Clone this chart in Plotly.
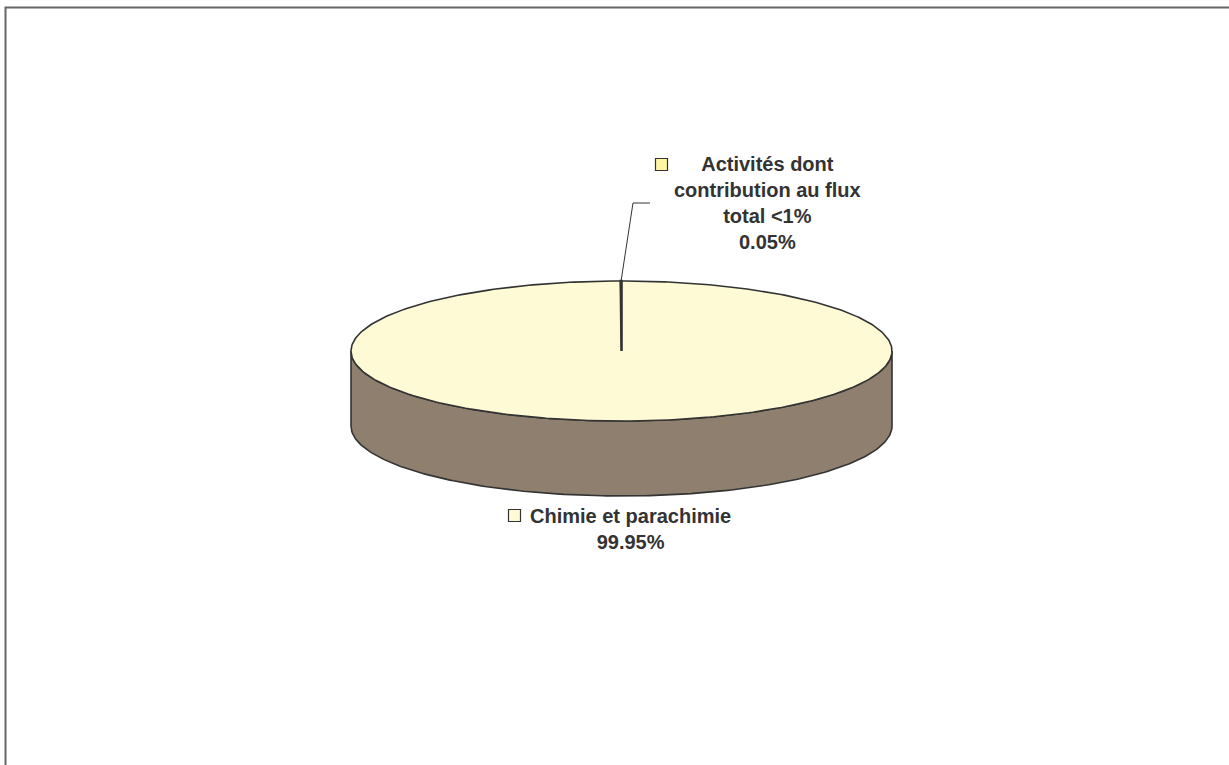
import numpy as np
import plotly.graph_objects as go

# data
labels = ['Chimie et parachimie', 'Activités dont contribution au flux total &lt;1%']
label_lines = [['Chimie et parachimie'], ['Activités dont', 'contribution au flux', 'total &lt;1%']]
values = [99.95, 0.05]
top_colors = ['#FFFAD6', '#FFF5A3']
side_colors = ['#8F7F6E', '#8F7F6E']

W, H = 1229, 765
cx, cy, rx, ry, depth = 621.5, 351.0, 270.5, 70.0, 75.0
edge = '#333333'
font = dict(family='Arial, Liberation Sans, sans-serif', size=20, color='#333333')


def ell(theta, dy=0.0):
    # clockwise from 12 o'clock, screen y goes down
    return cx + rx * np.sin(theta), cy - ry * np.cos(theta) + dy


total = sum(values)
fracs = [v / total for v in values]
bounds = np.concatenate([[0], np.cumsum(fracs)]) * 2 * np.pi

fig = go.Figure()

# side walls (front half only)
for i in range(len(values)):
    a0, a1 = max(bounds[i], np.pi / 2), min(bounds[i + 1], 3 * np.pi / 2)
    if a1 <= a0:
        continue
    t = np.linspace(a0, a1, 200)
    xt, yt = ell(t)
    xb, yb = ell(t[::-1], depth)
    fig.add_trace(go.Scatter(
        x=np.concatenate([xt, xb, xt[:1]]), y=np.concatenate([yt, yb, yt[:1]]),
        mode='lines', fill='toself', fillcolor=side_colors[i],
        line=dict(color=edge, width=1.6), hoverinfo='skip', showlegend=False))

# top faces
for i in range(len(values)):
    t = np.linspace(bounds[i], bounds[i + 1], max(3, int(400 * fracs[i])))
    xt, yt = ell(t)
    fig.add_trace(go.Scatter(
        x=np.concatenate([[cx], xt, [cx]]), y=np.concatenate([[cy], yt, [cy]]),
        mode='lines', fill='toself', fillcolor=top_colors[i],
        line=dict(color=edge, width=1.6 if fracs[i] > 0.01 else 2.4),
        hoverinfo='skip', showlegend=False))

# labels
label_pos = [(630, 529), (767, 203)]
key_pos = [(514.5, 515.5), (661.5, 164.5)]
for i in range(len(values)):
    mid = (bounds[i] + bounds[i + 1]) / 2
    lx, ly = label_pos[i]
    txt = '<br>'.join(label_lines[i] + ['%.2f%%' % (fracs[i] * 100)])
    fig.add_annotation(x=lx, y=ly, text='<b>' + txt + '</b>', showarrow=False,
                       font=font, align='center', xanchor='center', yanchor='middle')
    kx, ky = key_pos[i]
    fig.add_trace(go.Scatter(x=[kx], y=[ky], mode='markers', hoverinfo='skip', showlegend=False,
                             marker=dict(symbol='square', size=12, color=top_colors[i],
                                         line=dict(color=edge, width=1.2))))
    if fracs[i] < 0.01:
        sx, sy = ell(mid)
        fig.add_trace(go.Scatter(x=[sx, 633, 650], y=[sy, 203, 203], mode='lines',
                                 line=dict(color=edge, width=1), hoverinfo='skip', showlegend=False))

# chart area border (left and top visible)
fig.add_shape(type='path', path='M 5.5 770 L 5.5 7.5 L 1235 7.5', xref='x', yref='y',
              line=dict(color='#666666', width=2))

fig.update_xaxes(range=[0, W], visible=False, fixedrange=True)
fig.update_yaxes(range=[H, 0], visible=False, fixedrange=True)
fig.update_layout(width=W, height=H, margin=dict(l=0, r=0, t=0, b=0),
                  paper_bgcolor='white', plot_bgcolor='white')

fig.write_html('out.html', config={'displayModeBar': False},
               post_script="document.body.style.margin='0';")
